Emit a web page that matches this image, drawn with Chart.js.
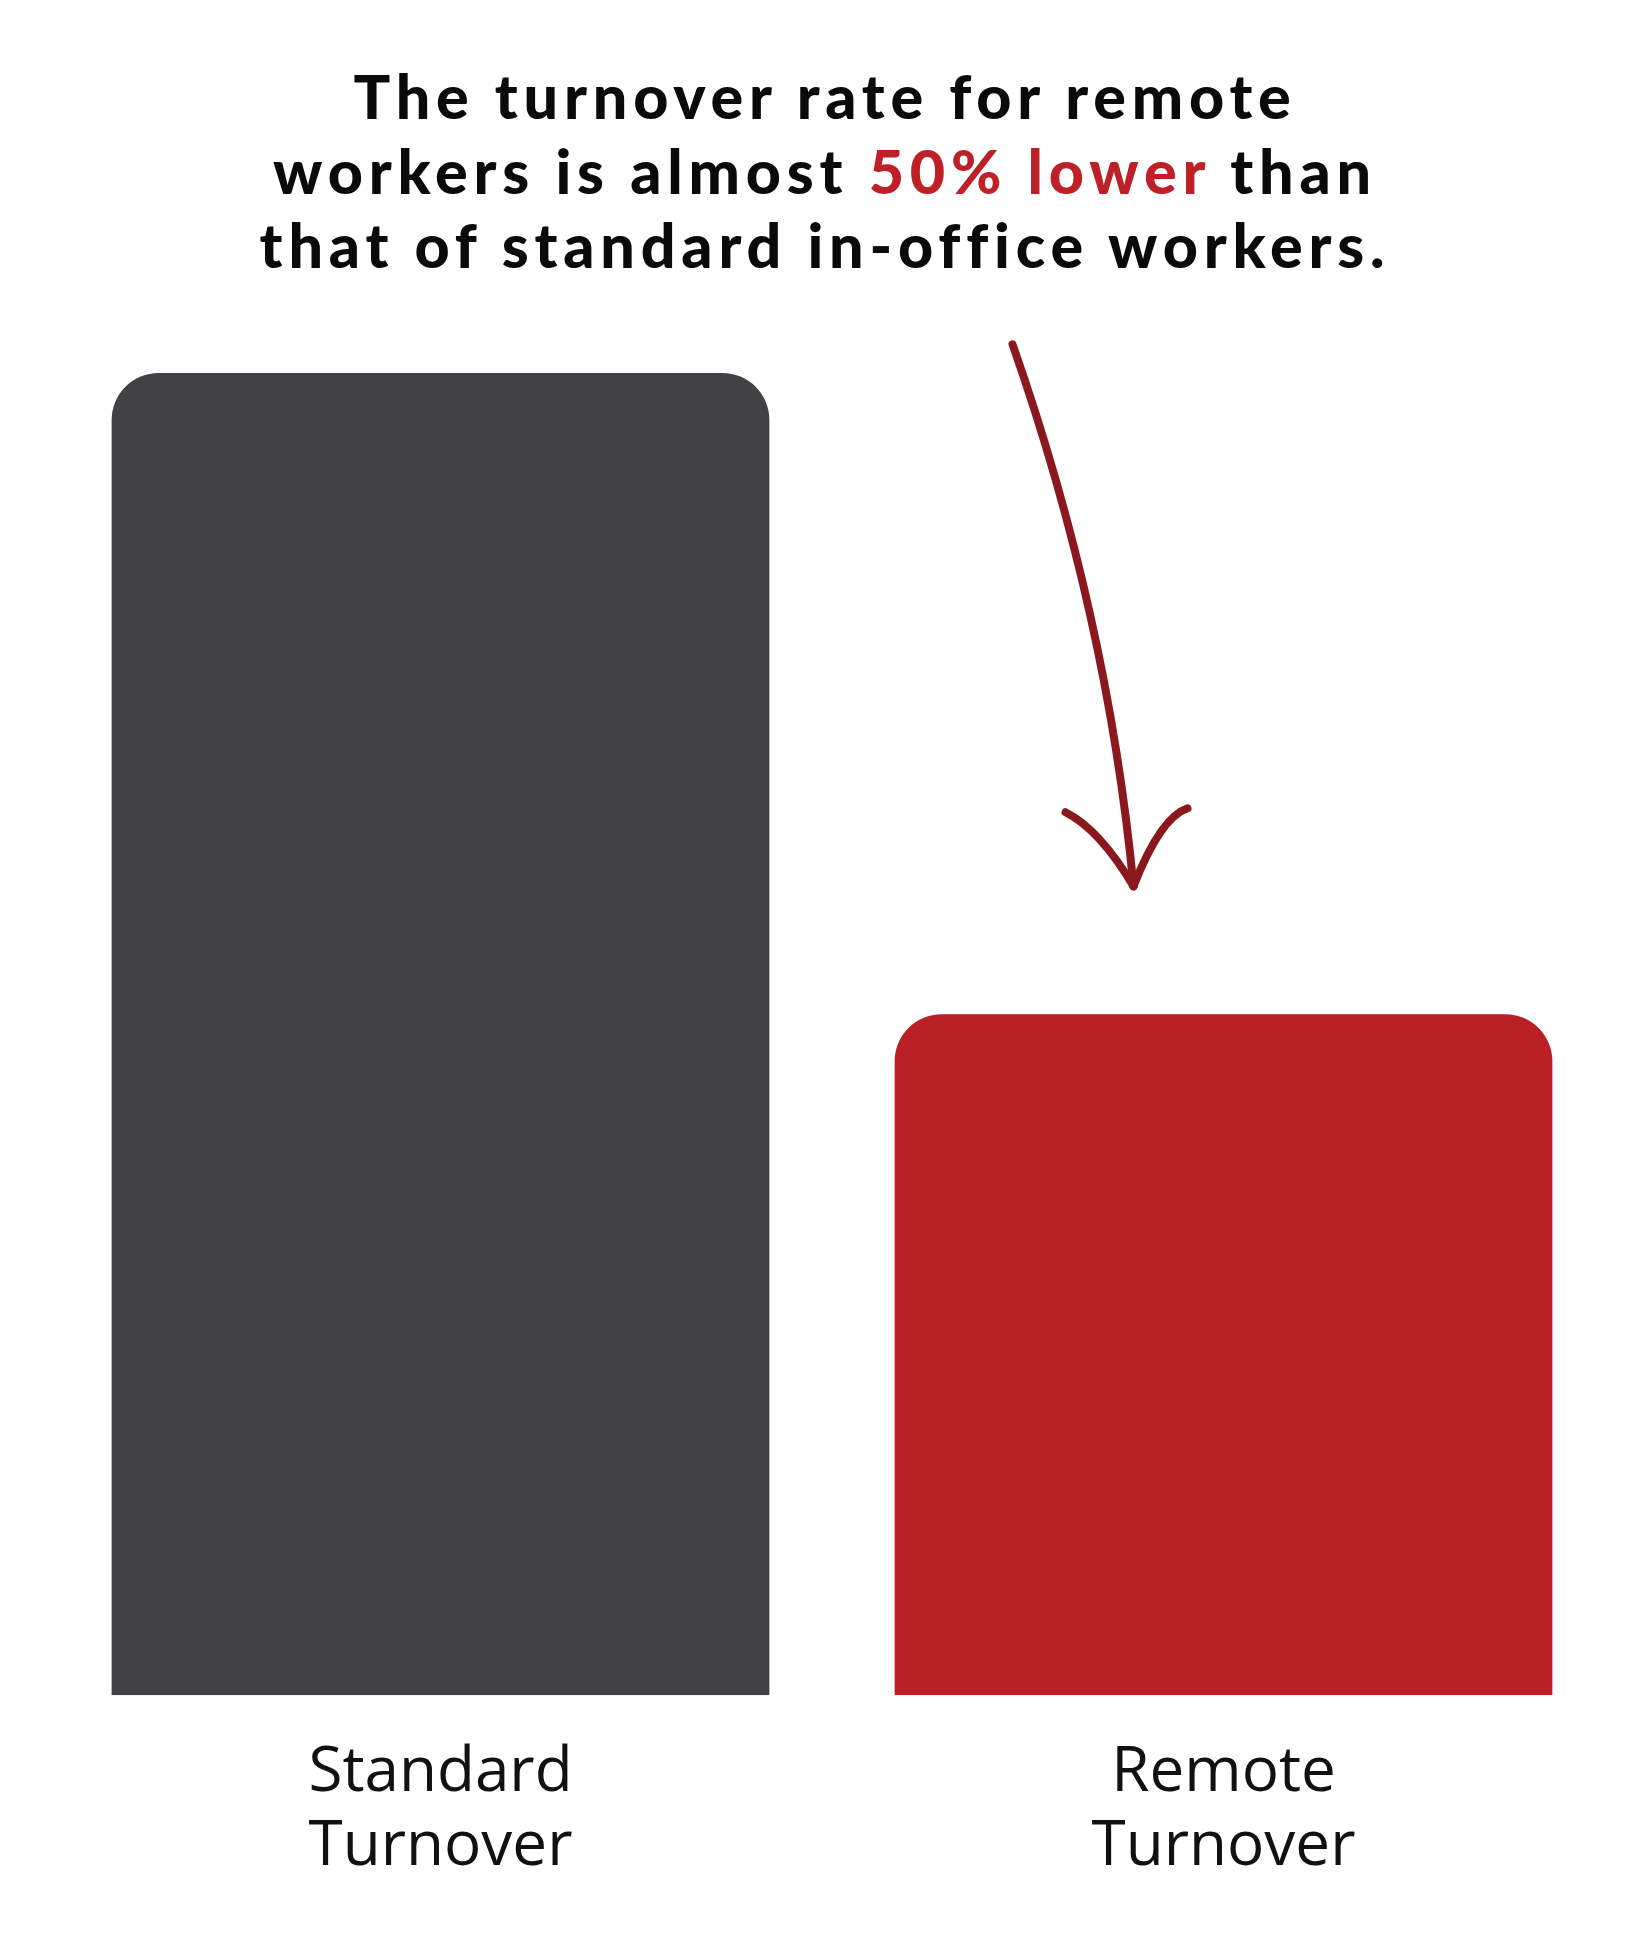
<!DOCTYPE html>
<html>
<head>
<meta charset="utf-8">
<title>Turnover rate: remote vs standard</title>
<script src="https://cdn.jsdelivr.net/npm/chart.js@4"></script>
<style>
  html, body { margin: 0; padding: 0; background: #ffffff; }
  #wrap { position: relative; width: 1650px; height: 1953px; }
  #headline {
    position: absolute; left: 0; top: 59px; width: 1650px;
    text-align: center;
    font-family: "Lato", sans-serif; font-weight: 900;
    font-size: 61px; line-height: 74.5px; letter-spacing: 5.8px;
    color: #0a0a0a;
  }
  #headline .hl { color: #bd2026; }
  canvas { position: absolute; left: 0; top: 0; }
</style>
</head>
<body>
<div id="wrap">
  <canvas id="turnoverChart" width="1650" height="1953"></canvas>
  <div id="headline">
    The turnover rate for remote<br>
    workers is almost <span class="hl">50% lower</span> than<br>
    that of standard in-office workers.
  </div>
</div>

<script>
// --- chart data ---
const categories   = [["Standard", "Turnover"], ["Remote", "Turnover"]];
const turnoverRate = [100, 51.5];   // relative turnover, standard = 100
const barColors    = ["#424143", "#ba2026"];

// curved hand-drawn arrow pointing at the remote bar
const arrowPlugin = {
    id: "arrowHint",
    afterDatasetsDraw(chart) {
        const bar = chart.getDatasetMeta(0).data[1];
        if (!bar) return;
        const ctx = chart.ctx;
        const tx = bar.x - 90, ty = bar.y - 128;   // arrow tip

        ctx.save();
        ctx.strokeStyle = "#8b181c";
        ctx.lineWidth = 8;
        ctx.lineCap = "round";
        ctx.lineJoin = "round";

        // shaft
        ctx.beginPath();
        ctx.moveTo(tx - 121, ty - 542);
        ctx.quadraticCurveTo(tx - 26, ty - 271, tx, ty);
        ctx.stroke();

        // head, left arm
        ctx.beginPath();
        ctx.moveTo(tx - 68, ty - 74);
        ctx.quadraticCurveTo(tx - 34, ty - 57, tx, ty);
        ctx.stroke();

        // head, right arm
        ctx.beginPath();
        ctx.moveTo(tx + 54, ty - 78);
        ctx.quadraticCurveTo(tx + 27, ty - 69, tx, ty);
        ctx.stroke();
        ctx.restore();
    }
};

const turnoverChart = new Chart(document.getElementById("turnoverChart"), {
    type: "bar",
    data: {
        labels: categories,
        datasets: [{
            data: turnoverRate,
            backgroundColor: barColors,
            borderWidth: 0,
            borderSkipped: "bottom",
            borderRadius: { topLeft: 47, topRight: 47, bottomLeft: 0, bottomRight: 0 },
            categoryPercentage: 1,
            barPercentage: 0.84
        }]
    },
    options: {
        responsive: false,
        animation: false,
        devicePixelRatio: 1,
        layout: { padding: { top: 373, left: 49, right: 35, bottom: 27 } },
        plugins: {
            legend: { display: false },
            tooltip: { enabled: false }
        },
        scales: {
            x: {
                grid: { display: false, drawTicks: false },
                border: { display: false },
                ticks: {
                    padding: 41,
                    color: "#111111",
                    font: { family: "'Open Sans', sans-serif", size: 62, lineHeight: 1.2 }
                }
            },
            y: {
                display: false,
                min: 0,
                max: 100
            }
        }
    },
    plugins: [arrowPlugin]
});
</script>
</body>
</html>
